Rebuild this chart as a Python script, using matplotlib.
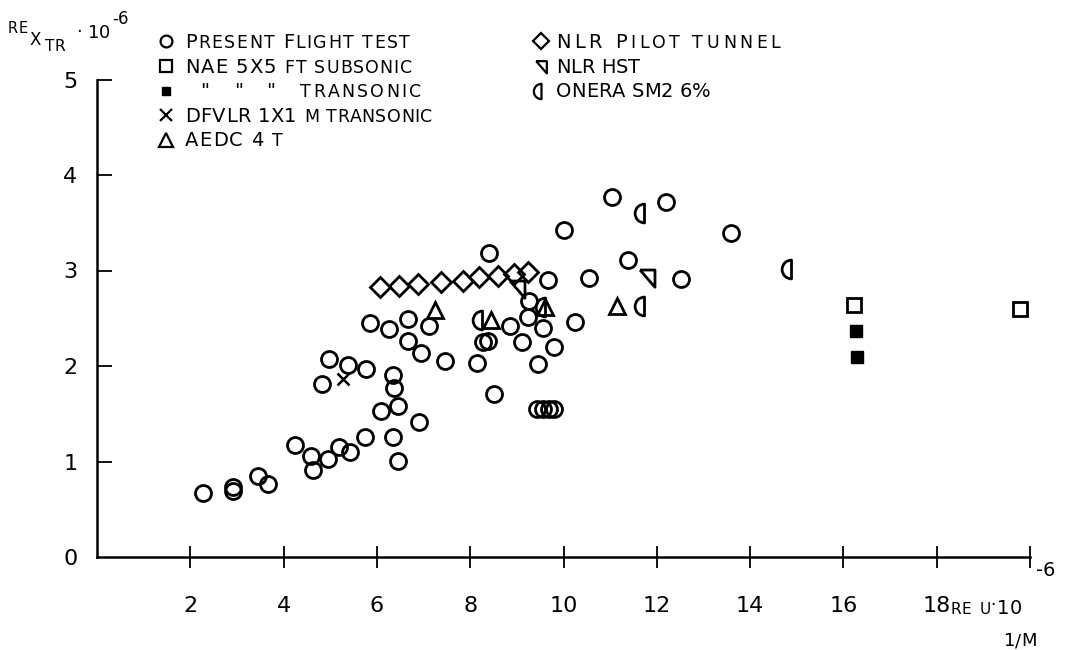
import matplotlib
matplotlib.use("Agg")
import matplotlib.pyplot as plt
import numpy as np
from matplotlib.path import Path
from matplotlib.transforms import IdentityTransform

plt.rcParams['font.family'] = ['DejaVu Sans']

# Present flight test (open circles)
flight_x = [2.27, 2.92, 2.92, 3.45, 3.67, 4.25, 4.59, 4.64, 4.96, 5.19, 5.42, 5.75,
            4.83, 4.98, 5.39, 5.77, 6.08, 6.35, 6.46, 6.91, 6.46, 6.37, 6.35,
            5.86, 6.27, 6.67, 7.12, 6.67, 6.95, 7.45, 8.15, 8.28, 8.39, 8.52,
            9.44, 9.56, 9.68, 9.80, 9.46, 9.79, 9.12, 8.86, 9.57, 9.23, 9.27,
            9.66, 10.24, 10.54, 8.41, 10.0, 11.05, 11.39, 12.19, 12.51, 13.58]
flight_y = [0.67, 0.73, 0.69, 0.85, 0.76, 1.17, 1.06, 0.91, 1.03, 1.15, 1.10, 1.26,
            1.81, 2.07, 2.01, 1.97, 1.53, 1.26, 1.01, 1.41, 1.58, 1.77, 1.91,
            2.45, 2.39, 2.49, 2.42, 2.26, 2.14, 2.05, 2.03, 2.25, 2.26, 1.71,
            1.55, 1.55, 1.55, 1.55, 2.02, 2.20, 2.25, 2.42, 2.40, 2.51, 2.68,
            2.90, 2.46, 2.92, 3.18, 3.42, 3.77, 3.11, 3.72, 2.91, 3.39]

# NAE 5x5 ft subsonic / transonic
nae_sub_x = [16.22, 19.79]
nae_sub_y = [2.64, 2.60]
nae_tr_x = [16.27, 16.29]
nae_tr_y = [2.37, 2.09]

# DFVLR 1x1 m transonic
dfvlr_x = [5.28]
dfvlr_y = [1.86]

# AEDC 4T
aedc_x = [7.25, 8.45, 9.61, 11.14]
aedc_y = [2.59, 2.48, 2.62, 2.63]

# NLR pilot tunnel
pilot_x = [6.07, 6.48, 6.89, 7.38, 7.85, 8.18, 8.60, 8.93, 9.23]
pilot_y = [2.83, 2.84, 2.86, 2.88, 2.89, 2.93, 2.94, 2.96, 2.98]

# NLR HST
hst_x = [9.01, 11.80]
hst_y = [2.82, 2.93]

# ONERA SM2 6%
onera_x = [8.25, 9.61, 11.72, 11.72, 14.87]
onera_y = [2.48, 2.62, 3.60, 2.63, 3.02]

arc = Path.arc(90, 270)
half_circle = Path(np.vstack([arc.vertices, [[0, 1]]]),
                   list(arc.codes) + [Path.CLOSEPOLY])
hst_marker = [(-1, 1), (1, 1), (1, -1.3), (-1, 1)]

fig = plt.figure(figsize=(10.73, 6.5), dpi=100)
ax = fig.add_axes([97 / 1073, 1 - 557 / 650, 933 / 1073, 477.5 / 650])

kw = dict(linestyle='none', markerfacecolor='none', markeredgecolor='black',
          markeredgewidth=2.0, color='black')
ax.plot(flight_x, flight_y, marker='o', markersize=11.5, **kw)
ax.plot(nae_sub_x, nae_sub_y, marker='s', markersize=10.5, **kw)
ax.plot(nae_tr_x, nae_tr_y, marker='s', markersize=8.5, linestyle='none',
        color='black')
ax.plot(dfvlr_x, dfvlr_y, marker='x', markersize=9, linestyle='none',
        color='black', markeredgewidth=1.8)
ax.plot(aedc_x, aedc_y, marker='^', markersize=12, **kw)
ax.plot(pilot_x, pilot_y, marker='D', markersize=10.5, **kw)
ax.plot(hst_x, hst_y, marker=hst_marker, markersize=14, **kw)
ax.plot(onera_x, onera_y, marker=half_circle, markersize=13.5, **kw)

ax.set_xlim(0, 20)
ax.set_ylim(0, 5)
for s in ['top', 'right']:
    ax.spines[s].set_visible(False)
for s in ['left', 'bottom']:
    ax.spines[s].set_linewidth(1.8)

ax.set_xticks(np.arange(2, 21, 2))
ax.set_xticklabels([str(v) for v in range(2, 19, 2)] + [''])
ax.set_yticks(np.arange(0, 6))
ax.set_yticklabels([str(v) for v in range(6)])
ax.tick_params(axis='x', direction='inout', length=16, width=1.3, pad=20,
               labelsize=16)
ax.tick_params(axis='y', direction='in', length=11, width=1.3, pad=14,
               labelsize=16)
yt = ax.yaxis.get_major_ticks()
yt[0].tick1line.set_visible(False)

renderer = fig.canvas.get_renderer()


def write(x, y, parts, end=None):
    # parts: (text, fontsize, raise in px); x, y in px from the top-left corner;
    # letters are spread out so the line ends near `end`
    chars = [(c, fs, dy) for s, fs, dy in parts for c in s]
    widths = []
    for c, fs, dy in chars:
        if c == ' ':
            widths.append(fs * 100 / 72 * 0.33)
        else:
            t = fig.text(0, 0, c, fontsize=fs, transform=IdentityTransform())
            widths.append(t.get_window_extent(renderer).width)
            t.remove()
    track = 0.0
    if end is not None and len(chars) > 1:
        track = max(0.0, (end - x - sum(widths)) / (len(chars) - 1))
    for (c, fs, dy), w in zip(chars, widths):
        if c != ' ':
            fig.text(x, 650 - y + dy, c, fontsize=fs, transform=IdentityTransform(),
                     va='baseline', ha='left')
        x += w + track


big, small = 14, 12.5
write(185, 48, [('P', big, 0), ('RESENT ', small, 0), ('F', big, 0),
                ('LIGHT TEST', small, 0)], end=410)
write(185, 73, [('NAE 5X5 ', big, 0), ('FT SUBSONIC', small, 0)], end=412)
write(200, 97, [('"', big, 0)])
write(234, 97, [('"', big, 0)])
write(266, 97, [('"', big, 0)])
write(300, 97, [('TRANSONIC', small, 0)], end=421)
write(185, 122, [('DFVLR 1X1 ', big, 0), ('M TRANSONIC', small, 0)], end=432)
write(185, 146, [('AEDC 4 ', big, 0), ('T', small, 0)], end=283)
write(556, 48, [('NLR P', big, 0), ('ILOT TUNNEL', small, 0)], end=780)
write(556, 73, [('NLR HST', big, 0)])
write(556, 97, [('ONERA SM2 6%', big, 0)])


def legmark(px, py, **m):
    fig.add_artist(plt.Line2D([px / 1073], [1 - py / 650], linestyle='none',
                              color='black', **m))


mk = dict(markerfacecolor='none', markeredgecolor='black', markeredgewidth=1.6)
legmark(166, 41, marker='o', markersize=8.5, **mk)
legmark(166, 66, marker='s', markersize=8.5, **mk)
legmark(166, 91, marker='s', markersize=6)
legmark(166, 115, marker='x', markersize=8, markeredgewidth=1.6)
legmark(166, 140, marker='^', markersize=9.5, **mk)
legmark(541, 41, marker='D', markersize=8.5, **mk)
legmark(541, 66, marker=hst_marker, markersize=10, **mk)
legmark(541, 91, marker=half_circle, markersize=11, **mk)

# axis titles
write(8, 33, [('RE', 10.5, 0)])
write(29, 45, [('X', 12, 0)])
write(45, 51, [('TR', 11, 0)])
write(76, 37, [('·', 13, 0)])
write(88, 38, [('10', 13, 0)])
write(112, 24, [('-6', 12, 0)])
write(951, 614, [('RE', 11, 0)])
write(980, 614, [('U', 11, 0)])
write(990, 610, [('·', 12, 0)])
write(997, 614, [('10', 14, 0)])
write(1036, 576, [('-6', 14, 0)])
write(1004, 646, [('1/M', 13, 0)])

fig.savefig('out.png', dpi=100)
